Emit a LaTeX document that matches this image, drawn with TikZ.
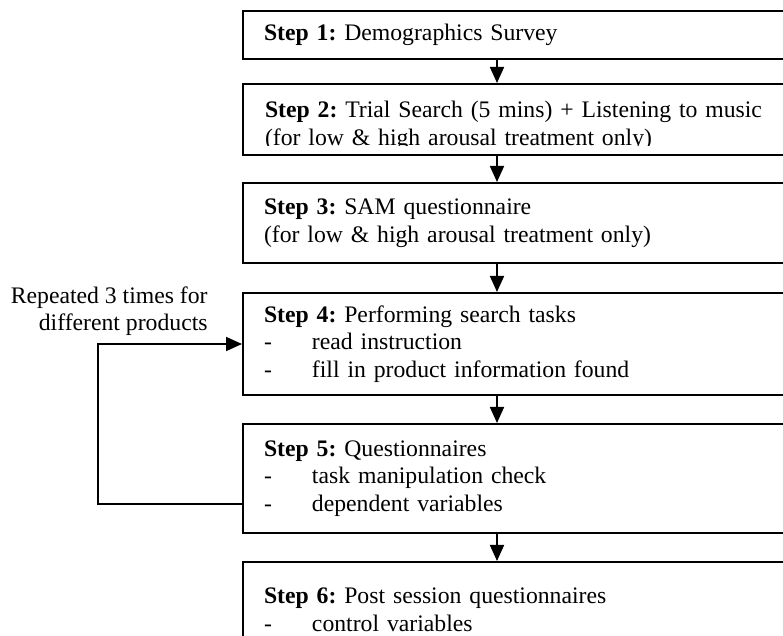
\documentclass[tikz,border=0pt]{standalone}
\usepackage{fontspec}
\setmainfont{Liberation Serif}
\usetikzlibrary{arrows.meta}

\newcommand{\dashitem}[1]{\\\makebox[24pt][l]{-}#1}

\tikzset{
  stepbox/.style={draw, line width=1pt, anchor=north west,
    text width=255pt, inner xsep=10.5pt, inner ysep=0pt, align=left},
  steptext/.style={draw=none, minimum height=0pt, minimum width=0pt, anchor=north west,
    text width=255pt, inner xsep=10.5pt, inner ysep=0pt, align=left},
  flow/.style={line width=0.9pt, -{Triangle[length=8pt,width=7pt]}},
}

\begin{document}
\frenchspacing
\begin{tikzpicture}[font=\fontsize{11.85pt}{13.75pt}\selectfont]
   \useasboundingbox (0,0) rectangle (391.5pt,-318pt);
   \coordinate (ax) at (248.5pt,0);

   \node[stepbox, minimum height=24pt] (box1) at (121pt,-5pt)
     {\textbf{Step 1:} Demographics Survey};
   % text of step 2 is cut off by its box
   \node[stepbox, minimum height=35.5pt, path picture={
       \clip (path picture bounding box.north west) rectangle ([yshift=4.6pt]path picture bounding box.south east);
       \node[steptext] (box2text) at ([yshift=-8.2pt]path picture bounding box.north west)
         {\makebox[255pt][s]{\textbf{Step 2:} Trial Search (5 mins) + Listening to music}\\
          (for low \& high arousal treatment only)};
     }] (box2) at (121pt,-41.5pt) {};
   \node[stepbox, minimum height=40pt] (box3) at (121pt,-91pt)
     {\textbf{Step 3:} SAM questionnaire\\(for low \& high arousal treatment only)};
   \node[stepbox, minimum height=51pt] (box4) at (121pt,-146pt)
     {\textbf{Step 4:} Performing search tasks
      \dashitem{read instruction}
      \dashitem{fill in product information found}};
   \node[stepbox, minimum height=54.5pt] (box5) at (121pt,-211.5pt)
     {\textbf{Step 5:} Questionnaires
      \dashitem{task manipulation check}
      \dashitem{dependent variables}};
   \node[stepbox, minimum height=48pt] (box6) at (121pt,-280.5pt)
     {\textbf{Step 6:} Post session questionnaires
      \dashitem{control variables}};

   \draw[flow] (box1.south -| ax) -- (box2.north -| ax);
   \draw[flow] (box2.south -| ax) -- (box3.north -| ax);
   \draw[flow] (box3.south -| ax) -- (box4.north -| ax);
   \draw[flow] (box4.south -| ax) -- (box5.north -| ax);
   \draw[flow] (box5.south -| ax) -- (box6.north -| ax);

   % loop back
   \node[align=right, anchor=south east, inner sep=0pt] (repeat) at (104pt,-168pt)
     {Repeated 3 times for\\different products};
   \draw[flow] ([yshift=-12.75pt]box5.west) -- ++(-72pt,0) |- (box4.west);
\end{tikzpicture}
\end{document}
